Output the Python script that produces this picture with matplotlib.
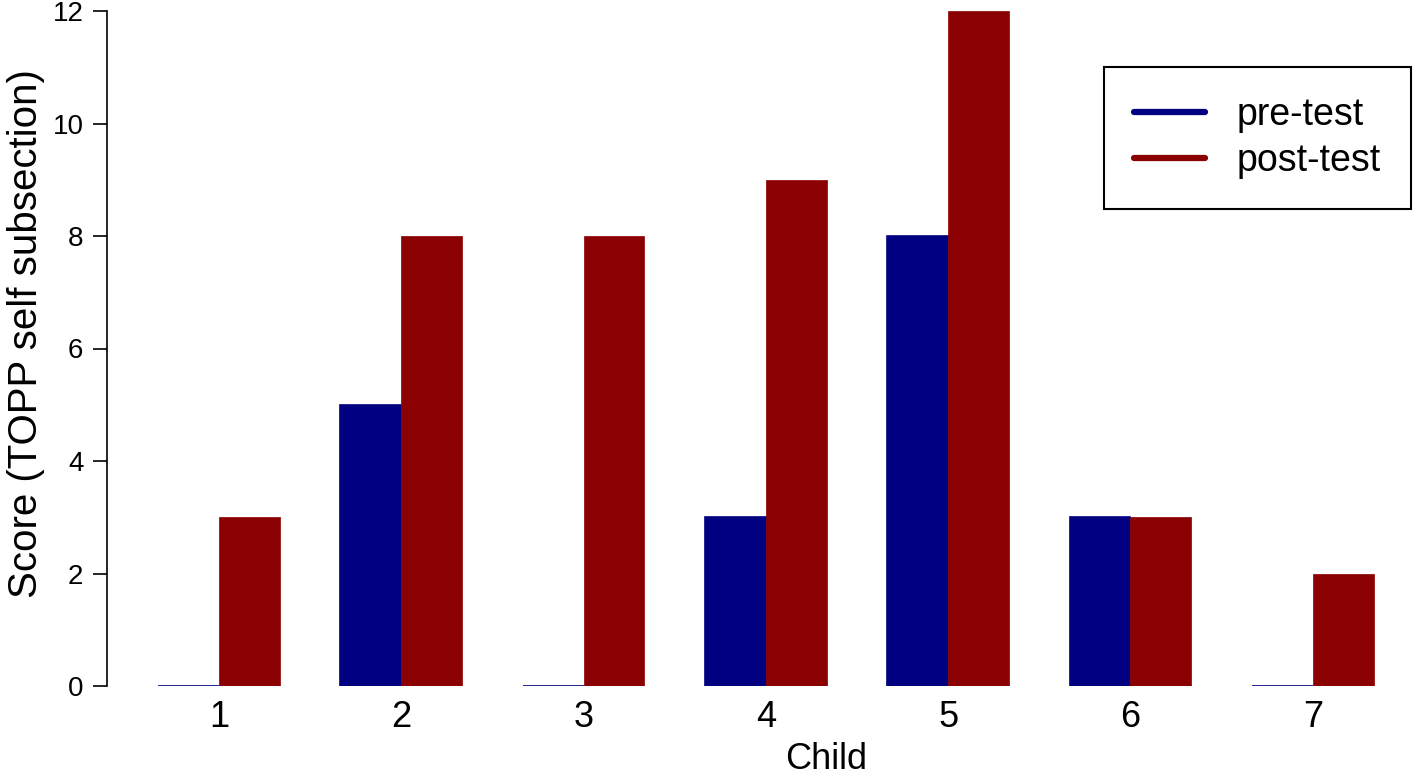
import numpy as np
from matplotlib import pyplot as plt
from matplotlib.lines import Line2D

children = ['1', '2', '3', '4', '5', '6', '7']
pre_test = [0, 5, 0, 3, 8, 3, 0]
post_test = [3, 8, 8, 9, 12, 3, 2]

plt.rcParams['font.family'] = ['Liberation Sans', 'DejaVu Sans']

fig = plt.figure(figsize=(14.16, 7.78), dpi=100)
ax = fig.add_axes([107 / 1416, 92 / 778, 1 - 107 / 1416, 675 / 778])

x = np.arange(1, len(children) + 1)
w = 1 / 3
ax.bar(x - w / 2, pre_test, width=w, color='#000080', edgecolor='#000080', linewidth=1.2)
ax.bar(x + w / 2, post_test, width=w, color='#8B0000', edgecolor='#8B0000', linewidth=0.5)

ax.set_xlim(0.386, 7.566)
ax.set_ylim(0, 12)
ax.set_yticks(range(0, 13, 2))
ax.set_xticks(x)
ax.set_xticklabels(children, fontsize=26)
ax.tick_params(axis='x', length=0, pad=10)
ax.tick_params(axis='y', labelsize=20, length=10, width=1.2, pad=7)
for s in ['top', 'right', 'bottom']:
    ax.spines[s].set_visible(False)
ax.spines['left'].set_linewidth(1.2)
ax.set_xlabel('Child', fontsize=26)
ax.xaxis.set_label_coords((826 - 107) / 1309, -56 / 675)
ax.set_ylabel('Score (TOPP self subsection)', fontsize=29)
ax.yaxis.set_label_coords(-62 / 1309, (686 - 334) / 675)

handles = [Line2D([], [], color='#000080', lw=4.5, solid_capstyle='round'),
           Line2D([], [], color='#8B0000', lw=4.5, solid_capstyle='round')]
leg = ax.legend(handles, ['pre-test', 'post-test'], fontsize=27, loc='upper right',
                bbox_to_anchor=(1411 / 1416, (778 - 67) / 778), bbox_transform=fig.transFigure,
                fancybox=False, edgecolor='black', framealpha=1, handlelength=1.9,
                borderpad=0.8, labelspacing=0.27, handletextpad=0.85, borderaxespad=0)
leg.get_frame().set_linewidth(1.5)

fig.savefig('out.png', dpi=100)
